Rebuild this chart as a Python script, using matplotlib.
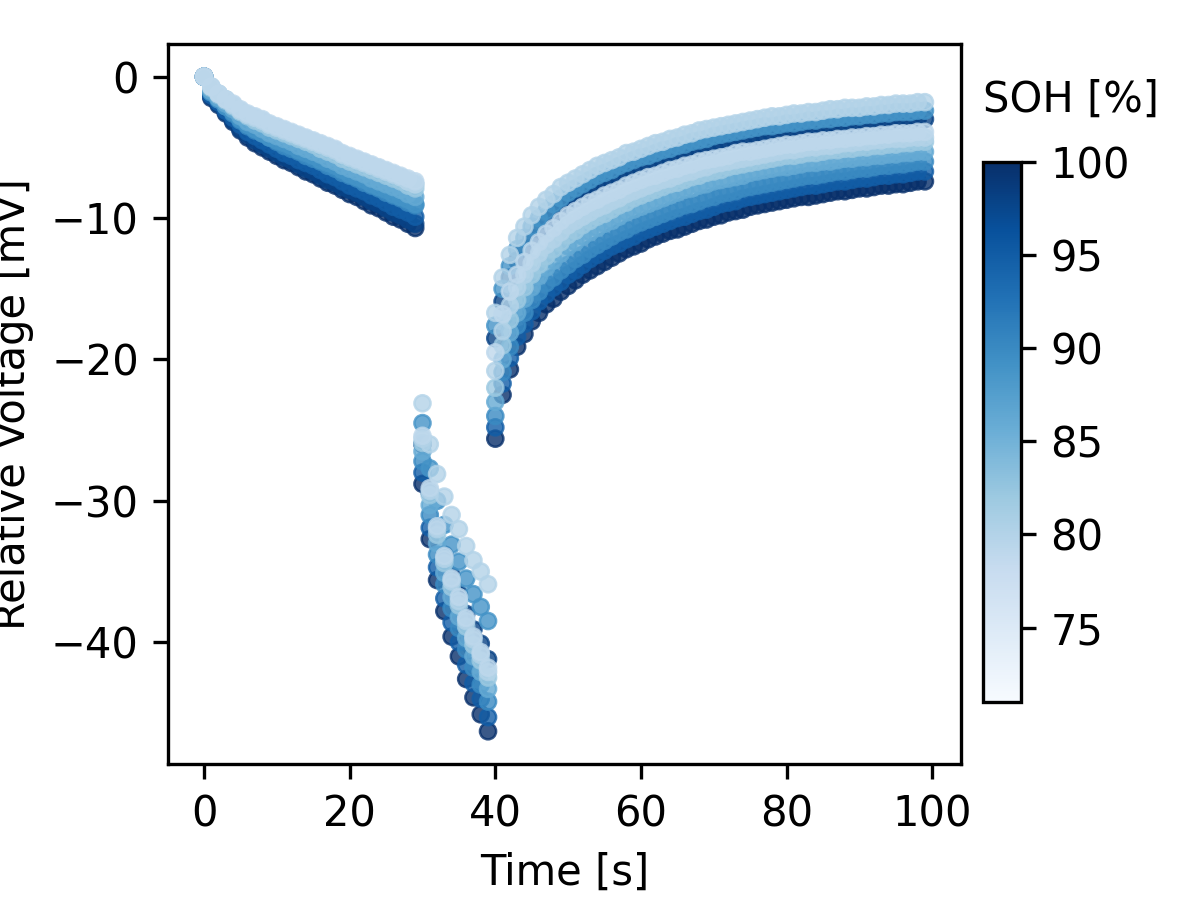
import matplotlib
matplotlib.use("Agg")
import matplotlib.pyplot as plt
import numpy as np
from matplotlib.colors import Normalize

# time axis [s]: rest 0-29, pulse 30-39, relaxation 40-99
time_s = list(range(100))

# state of health of each cell [%]
soh_values = [100, 98, 95, 90, 89, 86, 82, 80, 80, 79]

# relative voltage [mV] of each cell (rest | pulse | relaxation)
cell_100 = [0, -1.5, -2.0, -2.6, -3.2, -3.8, -4.3, -4.7, -5.0, -5.3, -5.6, -5.9, -6.1, -6.4, -6.7, -6.9, -7.2, -7.5, -7.7, -8.0, -8.3, -8.5, -8.8, -9.1, -9.3, -9.6, -9.9, -10.1, -10.4, -10.7,
            -28.8, -32.7, -35.6, -37.8, -39.6, -41.0, -42.6, -43.9, -45.1, -46.3,
            -25.6, -22.5, -20.7, -19.1, -18.2, -17.3, -16.7, -16.1, -15.7, -15.2,
            -14.8, -14.4, -14.0, -13.7, -13.4, -13.1, -12.8, -12.5, -12.2, -12.0,
            -11.8, -11.5, -11.3, -11.1, -10.9, -10.8, -10.6, -10.4, -10.2, -10.1,
            -9.9, -9.8, -9.6, -9.5, -9.4, -9.2, -9.1, -9.0, -8.9, -8.8,
            -8.7, -8.6, -8.5, -8.5, -8.4, -8.3, -8.2, -8.1, -8.1, -8.0,
            -7.9, -7.9, -7.8, -7.7, -7.7, -7.6, -7.6, -7.5, -7.4, -7.4]
cell_98 = [0, -1.4, -1.9, -2.5, -3.1, -3.7, -4.1, -4.5, -4.8, -5.1, -5.4, -5.7, -5.9, -6.2, -6.5, -6.7, -7.0, -7.3, -7.5, -7.8, -8.0, -8.2, -8.5, -8.8, -9.0, -9.3, -9.6, -9.8, -10.1, -10.4,
           -26.0, -29.4, -31.9, -33.8, -35.3, -36.6, -38.0, -39.1, -40.1, -41.2,
           -18.5, -15.9, -14.2, -13.0, -12.1, -11.4, -10.8, -10.2, -9.7, -9.3,
           -8.9, -8.6, -8.3, -8.0, -7.7, -7.5, -7.3, -7.0, -6.8, -6.6,
           -6.4, -6.2, -6.0, -5.9, -5.7, -5.6, -5.4, -5.3, -5.1, -5.0,
           -4.9, -4.7, -4.6, -4.5, -4.4, -4.3, -4.3, -4.2, -4.1, -4.0,
           -3.9, -3.9, -3.8, -3.7, -3.7, -3.6, -3.6, -3.5, -3.5, -3.4,
           -3.4, -3.3, -3.3, -3.2, -3.2, -3.1, -3.1, -3.1, -3.0, -3.0]
cell_95 = [0, -1.3, -1.8, -2.4, -2.9, -3.4, -3.9, -4.2, -4.5, -4.8, -5.1, -5.4, -5.6, -5.9, -6.1, -6.3, -6.6, -6.9, -7.1, -7.4, -7.7, -7.9, -8.1, -8.4, -8.6, -8.9, -9.2, -9.4, -9.6, -9.9,
           -28.0, -31.9, -34.7, -36.9, -38.6, -40.0, -41.6, -42.9, -44.0, -45.3,
           -24.8, -21.7, -19.9, -18.4, -17.5, -16.6, -15.9, -15.4, -14.9, -14.5,
           -14.0, -13.7, -13.3, -12.9, -12.6, -12.3, -12.0, -11.8, -11.5, -11.3,
           -11.0, -10.8, -10.6, -10.4, -10.2, -10.0, -9.9, -9.7, -9.5, -9.4,
           -9.2, -9.0, -8.9, -8.8, -8.6, -8.5, -8.4, -8.3, -8.2, -8.1,
           -8.0, -7.9, -7.8, -7.7, -7.7, -7.6, -7.5, -7.4, -7.4, -7.3,
           -7.2, -7.2, -7.1, -7.0, -7.0, -6.9, -6.9, -6.8, -6.7, -6.7]
cell_90 = [0, -1.1, -1.6, -2.1, -2.6, -3.1, -3.5, -3.8, -4.0, -4.3, -4.6, -4.9, -5.1, -5.3, -5.6, -5.8, -6.0, -6.3, -6.5, -6.8, -7.0, -7.2, -7.5, -7.7, -7.9, -8.2, -8.4, -8.6, -8.9, -9.1,
           -27.2, -31.0, -33.8, -35.9, -37.6, -39.0, -40.5, -41.8, -43.0, -44.2,
           -24.0, -20.9, -19.1, -17.6, -16.7, -15.8, -15.2, -14.6, -14.2, -13.7,
           -13.3, -12.9, -12.6, -12.2, -11.9, -11.6, -11.3, -11.0, -10.8, -10.5,
           -10.3, -10.1, -9.9, -9.7, -9.5, -9.3, -9.1, -9.0, -8.8, -8.6,
           -8.5, -8.3, -8.2, -8.1, -7.9, -7.8, -7.7, -7.6, -7.5, -7.4,
           -7.3, -7.2, -7.1, -7.0, -7.0, -6.9, -6.8, -6.7, -6.7, -6.6,
           -6.5, -6.5, -6.4, -6.3, -6.3, -6.2, -6.2, -6.1, -6.0, -6.0]
cell_89 = [0, -1.1, -1.6, -2.1, -2.5, -3.0, -3.4, -3.7, -4.0, -4.3, -4.5, -4.7, -4.9, -5.2, -5.4, -5.6, -5.9, -6.1, -6.3, -6.6, -6.9, -7.1, -7.3, -7.6, -7.8, -8.0, -8.3, -8.5, -8.7, -9.0,
           -24.5, -27.7, -30.0, -31.7, -33.1, -34.3, -35.5, -36.6, -37.5, -38.5,
           -17.6, -15.0, -13.4, -12.2, -11.4, -10.6, -10.0, -9.5, -9.0, -8.6,
           -8.2, -7.9, -7.6, -7.3, -7.0, -6.8, -6.6, -6.3, -6.1, -5.9,
           -5.7, -5.6, -5.4, -5.2, -5.1, -4.9, -4.8, -4.6, -4.5, -4.4,
           -4.2, -4.1, -4.0, -3.9, -3.8, -3.7, -3.6, -3.5, -3.5, -3.4,
           -3.3, -3.3, -3.2, -3.1, -3.1, -3.0, -3.0, -2.9, -2.9, -2.8,
           -2.8, -2.7, -2.7, -2.6, -2.6, -2.5, -2.5, -2.5, -2.4, -2.4]
cell_86 = [0, -1.0, -1.5, -1.9, -2.3, -2.8, -3.2, -3.4, -3.7, -4.0, -4.2, -4.4, -4.6, -4.9, -5.1, -5.3, -5.5, -5.8, -6.0, -6.3, -6.5, -6.7, -6.9, -7.2, -7.4, -7.6, -7.8, -8.0, -8.3, -8.5,
           -26.5, -30.3, -33.0, -35.1, -36.8, -38.2, -39.7, -41.0, -42.1, -43.3,
           -23.0, -20.0, -18.1, -16.7, -15.7, -14.9, -14.1, -13.5, -13.0, -12.5,
           -12.0, -11.7, -11.3, -11.0, -10.7, -10.4, -10.2, -9.9, -9.6, -9.4,
           -9.2, -9.0, -8.8, -8.6, -8.4, -8.2, -8.0, -7.9, -7.7, -7.6,
           -7.4, -7.3, -7.2, -7.1, -7.0, -6.8, -6.7, -6.6, -6.5, -6.4,
           -6.4, -6.3, -6.2, -6.1, -6.1, -6.0, -6.0, -5.9, -5.8, -5.8,
           -5.7, -5.7, -5.6, -5.6, -5.5, -5.5, -5.4, -5.4, -5.3, -5.3]
cell_82 = [0, -0.8, -1.3, -1.7, -2.1, -2.5, -2.8, -3.1, -3.3, -3.6, -3.8, -4.0, -4.2, -4.4, -4.6, -4.8, -5.1, -5.3, -5.5, -5.8, -6.0, -6.2, -6.4, -6.6, -6.8, -7.0, -7.2, -7.4, -7.7, -7.9,
           -25.9, -29.6, -32.4, -34.4, -36.1, -37.4, -38.9, -40.2, -41.3, -42.5,
           -22.0, -19.0, -17.2, -15.8, -14.9, -14.0, -13.3, -12.7, -12.2, -11.7,
           -11.2, -10.9, -10.5, -10.2, -9.9, -9.7, -9.4, -9.1, -8.9, -8.6,
           -8.4, -8.2, -8.0, -7.8, -7.6, -7.5, -7.3, -7.1, -7.0, -6.8,
           -6.7, -6.6, -6.4, -6.3, -6.2, -6.1, -6.0, -5.9, -5.8, -5.7,
           -5.6, -5.6, -5.5, -5.4, -5.4, -5.3, -5.2, -5.2, -5.1, -5.1,
           -5.0, -5.0, -4.9, -4.9, -4.8, -4.8, -4.7, -4.7, -4.6, -4.6]
cell_80b = [0, -0.7, -1.2, -1.6, -2.0, -2.4, -2.7, -2.9, -3.1, -3.4, -3.6, -3.8, -4.0, -4.2, -4.4, -4.6, -4.8, -5.0, -5.2, -5.5, -5.7, -5.9, -6.1, -6.3, -6.5, -6.7, -6.9, -7.1, -7.4, -7.6,
            -25.6, -29.3, -32.0, -34.1, -35.7, -37.1, -38.5, -39.8, -40.9, -42.1,
            -20.8, -18.0, -16.2, -14.9, -14.0, -13.2, -12.5, -11.9, -11.5, -11.0,
            -10.5, -10.2, -9.9, -9.6, -9.3, -9.1, -8.8, -8.6, -8.3, -8.1,
            -7.9, -7.7, -7.5, -7.3, -7.2, -7.0, -6.8, -6.7, -6.5, -6.4,
            -6.2, -6.1, -6.0, -5.9, -5.8, -5.7, -5.6, -5.5, -5.4, -5.3,
            -5.2, -5.2, -5.1, -5.0, -5.0, -4.9, -4.9, -4.8, -4.7, -4.7,
            -4.6, -4.6, -4.5, -4.5, -4.4, -4.4, -4.4, -4.3, -4.3, -4.3]
cell_80a = [0, -0.7, -1.2, -1.6, -2.0, -2.4, -2.7, -2.9, -3.1, -3.4, -3.6, -3.8, -4.0, -4.2, -4.4, -4.6, -4.8, -5.0, -5.2, -5.5, -5.7, -5.9, -6.1, -6.3, -6.5, -6.7, -6.9, -7.1, -7.4, -7.6,
            -23.1, -26.0, -28.1, -29.7, -31.0, -32.0, -33.2, -34.2, -35.0, -35.9,
            -16.7, -14.2, -12.6, -11.4, -10.6, -9.8, -9.2, -8.7, -8.3, -7.8,
            -7.5, -7.2, -6.9, -6.6, -6.3, -6.1, -5.9, -5.7, -5.4, -5.3,
            -5.1, -4.9, -4.7, -4.6, -4.4, -4.3, -4.1, -4.0, -3.8, -3.7,
            -3.6, -3.5, -3.4, -3.3, -3.2, -3.1, -3.0, -2.9, -2.8, -2.8,
            -2.7, -2.6, -2.6, -2.5, -2.5, -2.4, -2.3, -2.3, -2.2, -2.2,
            -2.2, -2.1, -2.1, -2.0, -2.0, -1.9, -1.9, -1.9, -1.8, -1.8]
cell_79 = [0, -0.7, -1.2, -1.6, -1.9, -2.3, -2.6, -2.8, -3.0, -3.3, -3.5, -3.7, -3.9, -4.1, -4.3, -4.5, -4.7, -4.9, -5.1, -5.4, -5.6, -5.8, -6.0, -6.2, -6.4, -6.6, -6.8, -7.0, -7.2, -7.4,
           -25.4, -29.1, -31.8, -33.9, -35.5, -36.8, -38.3, -39.6, -40.7, -41.8,
           -19.5, -16.8, -15.2, -14.0, -13.1, -12.3, -11.7, -11.1, -10.7, -10.2,
           -9.8, -9.5, -9.2, -8.9, -8.7, -8.4, -8.2, -8.0, -7.7, -7.5,
           -7.3, -7.1, -7.0, -6.8, -6.6, -6.5, -6.3, -6.2, -6.0, -5.9,
           -5.8, -5.7, -5.6, -5.4, -5.3, -5.3, -5.2, -5.1, -5.0, -4.9,
           -4.8, -4.8, -4.7, -4.6, -4.6, -4.5, -4.5, -4.4, -4.4, -4.3,
           -4.3, -4.2, -4.2, -4.1, -4.1, -4.0, -4.0, -4.0, -3.9, -3.9]

cells = [cell_100, cell_98, cell_95, cell_90, cell_89, cell_86, cell_82, cell_80b, cell_80a, cell_79]

soh_min, soh_max = 71, 100
cbar_ticks = [75, 80, 85, 90, 95, 100]

fig = plt.figure(figsize=(4, 3), dpi=300)
ax = fig.add_axes([0.14, 0.1511, 0.6608, 0.8])

xs, ys, cs = [], [], []
for soh, v in zip(soh_values, cells):
    xs.extend(time_s)
    ys.extend(v)
    cs.extend([soh] * len(v))

norm = Normalize(vmin=soh_min, vmax=soh_max)
sc = ax.scatter(xs, ys, c=cs, cmap="Blues", norm=norm, s=15, alpha=0.8,
                linewidths=0.6)

ax.set_xlabel("Time [s]")
ax.set_ylabel("Relative Voltage [mV]")
ax.set_xticks([0, 20, 40, 60, 80, 100])
ax.set_yticks([0, -10, -20, -30, -40])

cax = fig.add_axes([0.8192, 0.22, 0.0317, 0.6])
cbar = fig.colorbar(sc, cax=cax)
cbar.solids.set_alpha(1)
cbar.set_ticks(cbar_ticks)
cax.set_title("SOH [%]", loc="left", pad=12, fontsize=10)

fig.savefig("out.png", dpi=300)
